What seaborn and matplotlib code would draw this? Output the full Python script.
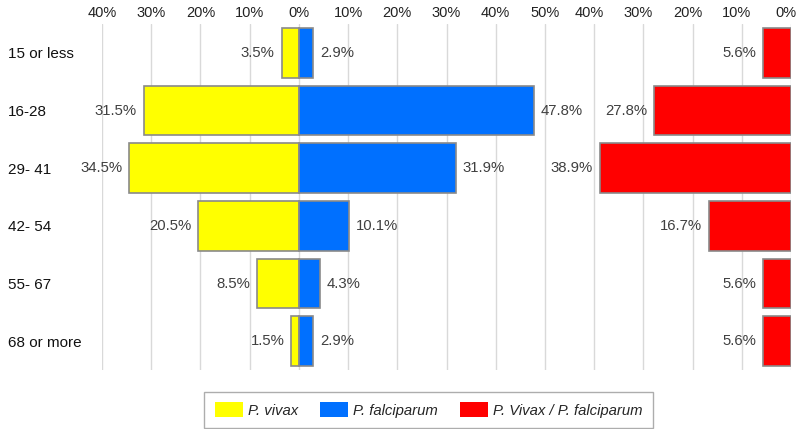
import matplotlib
matplotlib.use("Agg")
import matplotlib.pyplot as plt
import matplotlib.transforms as mtransforms
import seaborn as sns
import pandas as pd
from matplotlib.patches import Patch


# age groups and share of cases (%) per parasite
ages = ["15 or less", "16-28", "29- 41", "42- 54", "55- 67", "68 or more"]
vivax = [3.5, 31.5, 34.5, 20.5, 8.5, 1.5]
falciparum = [2.9, 47.8, 31.9, 10.1, 4.3, 2.9]
mixed = [5.6, 27.8, 38.9, 16.7, 5.6, 5.6]

series_names = ["P. vivax", "P. falciparum", "P. Vivax / P. falciparum"]
series_colors = ["#FFFF00", "#0070FF", "#FF0000"]

# top axis: -40..50 for the two single species, then 50..0 for the mixed group
tick_pos = list(range(-40, 101, 10))
tick_labels = [f"{abs(t)}%" if t <= 50 else f"{100 - t}%" for t in tick_pos]

sns.set_theme(style="white")
plt.rcParams["font.family"] = ["Liberation Sans", "DejaVu Sans"]

fig = plt.figure(figsize=(7.97, 4.29), dpi=100)
ax = fig.add_axes([102 / 797, 1 - 370 / 429, (791 - 102) / 797, (370 - 24) / 429])

df_v = pd.DataFrame({"age": ages, "value": [-v for v in vivax]})
df_f = pd.DataFrame({"age": ages, "value": falciparum})
df_m = pd.DataFrame({"age": ages, "value": mixed})

bar_kw = dict(orient="h", width=0.865, edgecolor="#8a8a8a", linewidth=1.2, order=ages)
sns.barplot(data=df_v, x="value", y="age", color=series_colors[0], saturation=1, ax=ax, **bar_kw)
sns.barplot(data=df_f, x="value", y="age", color=series_colors[1], saturation=1, ax=ax, **bar_kw)

label_kw = dict(padding=5, fontsize=10.7, color="#404040")
ax.bar_label(ax.containers[0], labels=[f"{v}%" for v in vivax], **label_kw)
ax.bar_label(ax.containers[1], labels=[f"{v}%" for v in falciparum], **label_kw)

# mixed infections grow leftwards from the right edge
ax2 = ax.twiny()
sns.barplot(data=df_m, x="value", y="age", color=series_colors[2], saturation=1, ax=ax2, **bar_kw)
ax2.set_xlim(140, 0)
ax2.bar_label(ax2.containers[0], labels=[f"{v}%" for v in mixed], **label_kw)
ax2.set_axis_off()

ax.set_xlim(-40, 100)
ax.set_xticks(tick_pos)
ax.set_xticklabels(tick_labels)
ax.xaxis.tick_top()
ax.tick_params(axis="x", length=0, pad=3, labelsize=10.5, colors="#222222")
ax.tick_params(axis="y", length=0, pad=68, labelsize=11, colors="#111111")
for lab in ax.get_yticklabels():
    lab.set_horizontalalignment("left")
shift = mtransforms.ScaledTranslation(-5 / 100, 0, fig.dpi_scale_trans)
for t, lab in zip(tick_pos, ax.get_xticklabels()):
    if t > 50:
        lab.set_transform(lab.get_transform() + shift)
ax.set_xlabel("")
ax.set_ylabel("")
ax.grid(axis="x", color="#d9d9d9", linewidth=1)
ax.set_axisbelow(True)
for s in ax.spines.values():
    s.set_visible(False)

handles = [Patch(facecolor=c, edgecolor="none") for c in series_colors]
leg = fig.legend(handles, series_names, loc="center",
                 bbox_to_anchor=(428.5 / 797, 1 - 410 / 429), ncol=3,
                 frameon=True, fancybox=False, edgecolor="#999999",
                 prop={"style": "italic", "size": 10.7},
                 handlelength=1.9, handleheight=1.1, handletextpad=0.35,
                 columnspacing=1.45, borderpad=0.72)
leg.get_frame().set_linewidth(1)

fig.savefig("out.png", dpi=100)
